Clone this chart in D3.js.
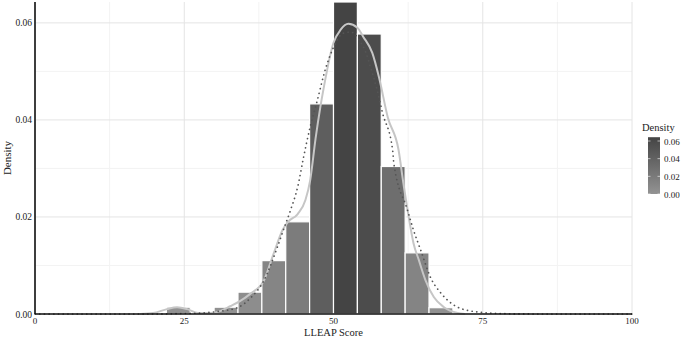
<!DOCTYPE html>
<html>
<head>
<meta charset="utf-8">
<script src="https://cdn.jsdelivr.net/npm/d3@7"></script>
<style>
  body { margin: 0; background: #fff; }
  text { font-family: "Liberation Serif", "DejaVu Serif", serif; fill: #222; }
</style>
</head>
<body>
<div id="chart"></div>
<script>
// histogram bins (width 4) and their density
const binStarts = [22, 26, 30, 34, 38, 42, 46, 50, 54, 58, 62, 66];
const binDensity = [0.0014, 0, 0.0014, 0.0045, 0.011, 0.019, 0.0433, 0.0643, 0.0577, 0.0304, 0.0126, 0.0013];
const BIN_WIDTH = 4;

// kernel density (solid grey line)
const kdeX = [17.6, 19.8, 22.1, 23.8, 25.5, 27.3, 29.4, 31.0, 32.7, 34.4, 36.1, 38.3, 39.9, 41.6, 42.4, 44.0, 45.3, 46.1, 47.0, 47.8, 48.3, 50.0, 51.2, 52.5, 54.0, 55.0, 56.5, 57.6, 59.1, 60.9, 61.7, 62.6, 63.4, 64.3, 65.4, 66.8, 68.5, 70.8, 72];
const kdeY = [0, 0.0002, 0.001, 0.0014, 0.001, 0.0002, 0.0002, 0.0006, 0.0016, 0.0027, 0.0042, 0.0068, 0.0122, 0.0176, 0.019, 0.0206, 0.0235, 0.0276, 0.0362, 0.0427, 0.0462, 0.0559, 0.0586, 0.0598, 0.059, 0.0571, 0.0538, 0.0489, 0.0405, 0.0338, 0.027, 0.02, 0.0146, 0.0111, 0.007, 0.0035, 0.0014, 0.0002, 0];

// normal reference curve (dotted)
const normX = [0, 20, 25, 27.7, 30.5, 33.9, 36.1, 38.3, 40.6, 41.6, 42.8, 44.0, 45.0, 46.1, 47.3, 48.7, 49.8, 50.8, 51.7, 52.9, 53.7, 54.5, 55.4, 56.2, 57.3, 58.2, 59.9, 60.1, 62.4, 63.4, 64.6, 66.3, 68.0, 70.8, 74.2, 76.3, 80, 85, 100];
const normY = [0, 0, 0.0001, 0.0002, 0.0005, 0.0013, 0.0033, 0.0068, 0.0138, 0.0173, 0.0214, 0.0262, 0.0324, 0.0386, 0.0441, 0.0507, 0.0544, 0.0569, 0.0579, 0.0581, 0.0575, 0.0561, 0.054, 0.0509, 0.0462, 0.0415, 0.0338, 0.0311, 0.0214, 0.0173, 0.0132, 0.0074, 0.0043, 0.0014, 0.0004, 0.0002, 0.00003, 0, 0];

const xTicks = [0, 25, 50, 75, 100];
const xMinor = [12.5, 37.5, 62.5, 87.5];
const yTicks = [0, 0.02, 0.04, 0.06];
const yMinor = [0.01, 0.03, 0.05];
const legendTicks = [0, 0.02, 0.04, 0.06];

const width = 685, height = 339;
const margin = { top: 2, right: 53, bottom: 25, left: 35 };

const svg = d3.select("#chart").append("svg")
  .attr("width", width)
  .attr("height", height);

const x = d3.scaleLinear().domain([0, 100]).range([margin.left, width - margin.right]);
const y = d3.scaleLinear().domain([0, 0.0643]).range([height - margin.bottom, margin.top]);
const fill = d3.scaleLinear().domain([0, 0.0643]).range(["#939393", "#444444"]);

// grid
const grid = svg.append("g");
grid.selectAll(".xminor").data(xMinor).join("line")
  .attr("x1", d => x(d)).attr("x2", d => x(d))
  .attr("y1", y.range()[1]).attr("y2", y.range()[0])
  .attr("stroke", "#f3f3f3");
grid.selectAll(".yminor").data(yMinor).join("line")
  .attr("x1", x.range()[0]).attr("x2", x.range()[1])
  .attr("y1", d => y(d)).attr("y2", d => y(d))
  .attr("stroke", "#f3f3f3");
grid.selectAll(".xmajor").data(xTicks).join("line")
  .attr("x1", d => x(d)).attr("x2", d => x(d))
  .attr("y1", y.range()[1]).attr("y2", y.range()[0])
  .attr("stroke", "#e4e4e4");
grid.selectAll(".ymajor").data(yTicks).join("line")
  .attr("x1", x.range()[0]).attr("x2", x.range()[1])
  .attr("y1", d => y(d)).attr("y2", d => y(d))
  .attr("stroke", "#e4e4e4");

// bars
svg.append("g")
  .selectAll("rect")
  .data(binStarts.map((s, i) => ({ x0: s, x1: s + BIN_WIDTH, d: binDensity[i] })).filter(b => b.d > 0))
  .join("rect")
  .attr("x", b => x(b.x0))
  .attr("width", b => x(b.x1) - x(b.x0))
  .attr("y", b => y(b.d))
  .attr("height", b => y(0) - y(b.d))
  .attr("fill", b => fill(b.d))
  .attr("stroke", "#fff")
  .attr("stroke-width", 1.2);

const line = d3.line().x(p => x(p[0])).y(p => y(p[1])).curve(d3.curveMonotoneX);

// kernel density
svg.append("path")
  .datum(kdeX.map((v, i) => [v, kdeY[i]]))
  .attr("d", line)
  .attr("fill", "none")
  .attr("stroke", "#c6c6c6")
  .attr("stroke-width", 2);

// normal curve
svg.append("path")
  .datum(normX.map((v, i) => [v, normY[i]]))
  .attr("d", line)
  .attr("fill", "none")
  .attr("stroke", "#555")
  .attr("stroke-width", 1.7)
  .attr("stroke-linecap", "round")
  .attr("stroke-dasharray", "0.1,4.6");

// axes lines
svg.append("line")
  .attr("x1", x(0)).attr("x2", x(100))
  .attr("y1", y(0)).attr("y2", y(0))
  .attr("stroke", "#111").attr("stroke-width", 1.6);
svg.append("line")
  .attr("x1", x(0)).attr("x2", x(0))
  .attr("y1", y.range()[1]).attr("y2", y(0))
  .attr("stroke", "#111").attr("stroke-width", 1.6);

// tick labels
svg.append("g").selectAll("text").data(xTicks).join("text")
  .attr("x", d => x(d)).attr("y", y(0) + 10)
  .attr("text-anchor", "middle")
  .style("font-size", "9px")
  .text(d => d);
svg.append("g").selectAll("text").data(yTicks).join("text")
  .attr("x", x(0) - 3).attr("y", d => y(d) + 3.5)
  .attr("text-anchor", "end")
  .style("font-size", "9.5px")
  .text(d => d3.format(".2f")(d));

// axis titles
svg.append("text")
  .attr("x", (x(0) + x(100)) / 2).attr("y", 336)
  .attr("text-anchor", "middle")
  .style("font-size", "10.5px")
  .text("LLEAP Score");
svg.append("text")
  .attr("transform", `translate(11,${(y(0) + y.range()[1]) / 2}) rotate(-90)`)
  .attr("text-anchor", "middle")
  .style("font-size", "11px")
  .text("Density");

// legend
const lg = svg.append("g");
const ly = d3.scaleLinear().domain([0, 0.06]).range([194, 141]);
const defs = svg.append("defs");
const grad = defs.append("linearGradient").attr("id", "lgGrad")
  .attr("x1", 0).attr("x2", 0).attr("y1", 1).attr("y2", 0);
grad.append("stop").attr("offset", "0%").attr("stop-color", fill(0));
grad.append("stop").attr("offset", "100%").attr("stop-color", fill(0.0643));
lg.append("rect")
  .attr("x", 648).attr("width", 12)
  .attr("y", ly(0.0643)).attr("height", ly(0) - ly(0.0643))
  .attr("fill", "url(#lgGrad)");
lg.selectAll(".tk").data(legendTicks).join("g").each(function(d) {
  const g = d3.select(this);
  g.append("line").attr("x1", 648).attr("x2", 650.5).attr("y1", ly(d)).attr("y2", ly(d)).attr("stroke", "#fff").attr("stroke-opacity", 0.6);
  g.append("line").attr("x1", 657.5).attr("x2", 660).attr("y1", ly(d)).attr("y2", ly(d)).attr("stroke", "#fff").attr("stroke-opacity", 0.6);
});
lg.selectAll("text.lab").data(legendTicks).join("text")
  .attr("x", 664).attr("y", d => ly(d) + 3.5)
  .style("font-size", "9px")
  .text(d => d3.format(".2f")(d));
lg.append("text")
  .attr("x", 642).attr("y", 131)
  .style("font-size", "10.5px")
  .text("Density");
</script>
</body>
</html>
